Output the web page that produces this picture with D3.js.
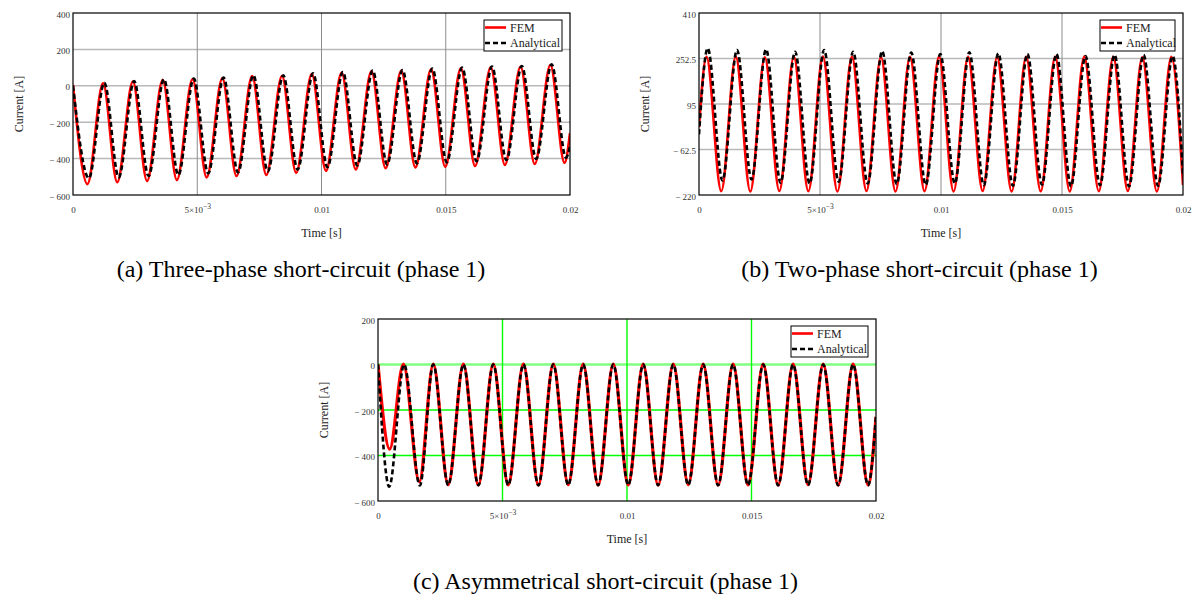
<!DOCTYPE html>
<html>
<head>
<meta charset="utf-8">
<script src="https://cdn.jsdelivr.net/npm/d3@7"></script>
<style>
  body { margin: 0; background: #fff; }
  svg { display: block; font-family: "Liberation Serif", "Times New Roman", serif; }
</style>
</head>
<body>
<svg id="chart" width="1192" height="594"></svg>
<script>
// Data: extrema of each waveform (time in ms, current in A)

// (a) three-phase short-circuit
const timeFemA = [0, 0.58, 1.21, 1.78, 2.41, 2.98, 3.61, 4.18, 4.81, 5.38, 6.01, 6.58, 7.21, 7.78, 8.41, 8.98, 9.61,
  10.18, 10.81, 11.38, 12.01, 12.58, 13.21, 13.78, 14.41, 14.98, 15.61, 16.18, 16.81, 17.38, 18.01, 18.58, 19.21, 19.78, 20];
const femA = [5, -540, 14, -530, 23, -523, 32, -518, 36, -503, 41, -496, 54, -490, 54, -478, 65,
  -467, 72, -459, 80, -453, 83, -448, 91, -445, 96, -441, 102, -435, 105, -430, 114, -423, -260];
const timeAnaA = [0, 0.64, 1.26, 1.84, 2.46, 3.04, 3.66, 4.24, 4.86, 5.44, 6.06, 6.64, 7.26, 7.84, 8.46, 9.04, 9.66,
  10.24, 10.86, 11.44, 12.06, 12.64, 13.26, 13.84, 14.46, 15.04, 15.66, 16.24, 16.86, 17.44, 18.06, 18.64, 19.26, 19.84, 20];
const anaA = [0, -508, 17, -503, 26, -496, 36, -490, 40, -481, 45, -476, 58, -470, 58, -460, 69,
  -447, 76, -438, 84, -432, 87, -426, 95, -420, 100, -414, 106, -408, 109, -402, 118, -395, -330];

// (b) two-phase short-circuit
const timeFemB = [0, 0.31, 0.92, 1.52, 2.12, 2.72, 3.32, 3.92, 4.52, 5.12, 5.72, 6.32, 6.92, 7.52, 8.12, 8.72, 9.32,
  9.92, 10.52, 11.12, 11.72, 12.32, 12.92, 13.52, 14.12, 14.72, 15.32, 15.92, 16.52, 17.12, 17.72, 18.32, 18.92, 19.52, 20];
const femB = [15, 258, -207, 259, -208, 257, -206, 258, -207, 259, -208, 258, -206, 257, -208, 258, -207,
  259, -208, 258, -206, 257, -208, 258, -207, 258, -208, 259, -207, 258, -206, 257, -208, 258, -185];
const timeAnaB = [0, 0.36, 0.97, 1.57, 2.17, 2.77, 3.37, 3.97, 4.57, 5.17, 5.77, 6.37, 6.97, 7.57, 8.17, 8.77, 9.37,
  9.97, 10.57, 11.17, 11.77, 12.37, 12.97, 13.57, 14.17, 14.77, 15.37, 15.97, 16.57, 17.17, 17.77, 18.37, 18.97, 19.57, 20];
const anaB = [-10, 288, -170, 282, -166, 284, -177, 276, -180, 282, -174, 276, -180, 278, -182, 273, -185,
  268, -180, 274, -186, 270, -188, 268, -184, 268, -190, 261, -186, 265, -190, 265, -188, 261, -150];

// (c) asymmetrical short-circuit
const timeFemC = [0, 0.47, 1.02, 1.66, 2.22, 2.82, 3.43, 4.03, 4.63, 5.23, 5.84, 6.44, 7.04, 7.64, 8.24, 8.84, 9.45,
  10.05, 10.65, 11.25, 11.86, 12.46, 13.06, 13.66, 14.26, 14.86, 15.47, 16.07, 16.67, 17.27, 17.88, 18.48, 19.08, 19.68, 20];
const femC = [0, -372, 2, -515, 2, -528, 2, -530, 2, -529, 2, -530, 2, -528, 2, -530, 2,
  -529, 2, -530, 2, -528, 2, -530, 2, -529, 2, -530, 2, -528, 2, -530, 2, -529, -230];
const timeAnaC = [0, 0.45, 1.05, 1.68, 2.22, 2.82, 3.43, 4.03, 4.63, 5.23, 5.84, 6.44, 7.04, 7.64, 8.24, 8.84, 9.45,
  10.05, 10.65, 11.25, 11.86, 12.46, 13.06, 13.66, 14.26, 14.86, 15.47, 16.07, 16.67, 17.27, 17.88, 18.48, 19.08, 19.68, 20];
const anaC = [0, -537, 0, -532, 0, -530, 0, -531, 0, -530, 0, -531, 0, -530, 0, -531, 0,
  -530, 0, -531, 0, -530, 0, -531, 0, -530, 0, -531, 0, -530, 0, -531, 0, -530, -230];

// Ticks and labels
const xTicks = [0, 0.005, 0.01, 0.015, 0.02];
const yTicksA = [400, 200, 0, -200, -400, -600];
const yTicksB = [410, 252.5, 95, -62.5, -220];
const yTicksC = [200, 0, -200, -400, -600];
const seriesNames = ["FEM", "Analytical"];
const captions = [
  "(a) Three-phase short-circuit (phase 1)",
  "(b) Two-phase short-circuit (phase 1)",
  "(c) Asymmetrical short-circuit (phase 1)"
];

const svg = d3.select("#chart");

const fmtY = d => d < 0 ? "\u2212 " + Math.abs(d) : String(d);
const fmtX = d => d === 0.005 ? "" : String(d);

function drawPanel(p) {
  const g = svg.append("g");
  const w = p.right - p.left;
  const h = p.bottom - p.top;

  const x = d3.scaleLinear().domain([0, 0.02]).range([p.left, p.right]);
  const y = d3.scaleLinear().domain([p.yTicks[p.yTicks.length - 1], p.yTicks[0]]).range([p.bottom, p.top]);

  svg.append("clipPath").attr("id", p.id + "-clip")
    .append("rect").attr("x", p.left).attr("y", p.top).attr("width", w).attr("height", h);

  // grid
  const inner = p.yTicks.slice(1, -1);
  g.selectAll(".hgrid").data(inner).join("line")
    .attr("x1", p.left).attr("x2", p.right)
    .attr("y1", d => y(d)).attr("y2", d => y(d))
    .attr("stroke", d => (p.zeroColor && d === 0) ? p.zeroColor : p.hColor)
    .attr("stroke-width", d => (p.zeroColor && d === 0) ? 2.5 : p.hWidth);

  g.selectAll(".vgrid").data(xTicks.slice(1, -1)).join("line")
    .attr("x1", d => x(d)).attr("x2", d => x(d))
    .attr("y1", p.top).attr("y2", p.bottom)
    .attr("stroke", p.vColor)
    .attr("stroke-width", p.vWidth);

  // curves
  const line = d3.line()
    .x(d => x(d[0] / 1000))
    .y(d => y(d[1]))
    .curve(d3.curveMonotoneX);

  const plot = g.append("g").attr("clip-path", `url(#${p.id}-clip)`);
  plot.append("path")
    .datum(d3.zip(p.femTime, p.fem))
    .attr("fill", "none")
    .attr("stroke", "#ff0000")
    .attr("stroke-width", p.redWidth)
    .attr("d", line);
  plot.append("path")
    .datum(d3.zip(p.anaTime, p.ana))
    .attr("fill", "none")
    .attr("stroke", "#000")
    .attr("stroke-width", 2.6)
    .attr("stroke-dasharray", "5,3")
    .attr("d", line);

  // frame
  g.append("rect")
    .attr("x", p.left).attr("y", p.top)
    .attr("width", w).attr("height", h)
    .attr("fill", "none")
    .attr("stroke", "#000")
    .attr("stroke-width", 1.2);

  // axes
  g.append("g")
    .attr("transform", `translate(${p.left},0)`)
    .call(d3.axisLeft(y).tickValues(p.yTicks).tickSize(0).tickPadding(3).tickFormat(fmtY))
    .call(a => a.select(".domain").remove())
    .attr("font-family", null)
    .attr("font-size", 9)
    .selectAll("text")
    .attr("fill", "#333")
    .attr("dy", "0.45em");

  g.append("g")
    .attr("transform", `translate(0,${p.bottom})`)
    .call(d3.axisBottom(x).tickValues(xTicks).tickSize(0).tickPadding(12).tickFormat(fmtX))
    .call(a => a.select(".domain").remove())
    .attr("font-family", null)
    .attr("font-size", 9)
    .selectAll("text")
    .attr("fill", "#333")
    .each(function (d) {
      if (d !== 0.005) return;
      const t = d3.select(this);
      t.append("tspan").text("5\u00d710");
      t.append("tspan").attr("dy", -4).attr("font-size", 7.5).text("\u22123");
    });

  // axis titles
  g.append("text")
    .attr("transform", `translate(${p.left - 50},${(p.top + p.bottom) / 2}) rotate(-90)`)
    .attr("text-anchor", "middle")
    .attr("font-size", 12)
    .attr("fill", "#222")
    .text("Current [A]");

  g.append("text")
    .attr("x", (p.left + p.right) / 2)
    .attr("y", p.bottom + 41.5)
    .attr("text-anchor", "middle")
    .attr("font-size", 12)
    .attr("fill", "#222")
    .text("Time [s]");

  // legend
  const lg = g.append("g").attr("transform", `translate(${p.right - 8 - p.legendW},${p.top + 7})`);
  lg.append("rect")
    .attr("width", p.legendW).attr("height", 31)
    .attr("fill", "#fff")
    .attr("stroke", "#000")
    .attr("stroke-width", 1);
  const styles = [
    { color: "#ff0000", dash: null },
    { color: "#000", dash: "5,3" }
  ];
  seriesNames.forEach((name, i) => {
    const cy = 7.5 + i * 15.5;
    lg.append("line")
      .attr("x1", 1).attr("x2", 22)
      .attr("y1", cy).attr("y2", cy)
      .attr("stroke", styles[i].color)
      .attr("stroke-width", 2.6)
      .attr("stroke-dasharray", styles[i].dash);
    lg.append("text")
      .attr("x", 26).attr("y", cy + 4)
      .attr("font-size", 12)
      .attr("fill", "#222")
      .text(name);
  });

  // caption
  svg.append("text")
    .attr("x", p.capX).attr("y", p.capY)
    .attr("text-anchor", "middle")
    .attr("font-size", 24)
    .attr("fill", "#000")
    .text(p.caption);
}

drawPanel({
  id: "a", left: 73, right: 570, top: 13, bottom: 195,
  yTicks: yTicksA, femTime: timeFemA, fem: femA, anaTime: timeAnaA, ana: anaA,
  hColor: "#b8b8b8", hWidth: 1.5, vColor: "#8c8c8c", vWidth: 1, redWidth: 2.6,
  legendW: 78, caption: captions[0], capX: 301, capY: 276.5
});

drawPanel({
  id: "b", left: 699, right: 1183, top: 13, bottom: 195,
  yTicks: yTicksB, femTime: timeFemB, fem: femB, anaTime: timeAnaB, ana: anaB,
  hColor: "#b8b8b8", hWidth: 1.5, vColor: "#8c8c8c", vWidth: 1, redWidth: 2.6,
  legendW: 75, caption: captions[1], capX: 919.5, capY: 276.5
});

drawPanel({
  id: "c", left: 378, right: 876, top: 319, bottom: 501,
  yTicks: yTicksC, femTime: timeFemC, fem: femC, anaTime: timeAnaC, ana: anaC,
  hColor: "#00ff00", hWidth: 1.3, vColor: "#00ff00", vWidth: 1.4, zeroColor: "#80ff80", redWidth: 3.2,
  legendW: 77, caption: captions[2], capX: 605.5, capY: 589
});
</script>
</body>
</html>
